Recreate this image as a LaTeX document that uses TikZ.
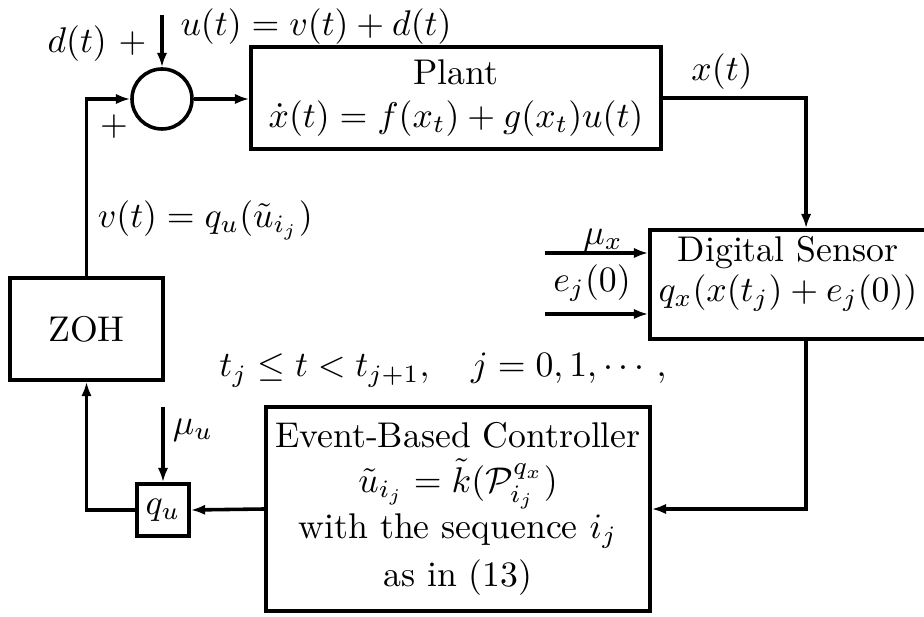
\documentclass[tikz,border=0pt]{standalone}
\usepackage{amsmath,amssymb}
\usetikzlibrary{arrows.meta,calc}
\begin{document}
\begin{tikzpicture}[x=0.28pt,y=-0.28pt,
  line width=1pt,
  blockbox/.style={draw,line width=1pt,rectangle,inner sep=0pt,align=center},
  arr/.style={-{Latex[length=4pt,width=2.9pt]},line width=1pt},
  lbl/.style={inner sep=0pt}]
\useasboundingbox (0,0) rectangle (924,617);
% blocks
\node[draw,circle,minimum size=16.8pt,inner sep=0pt] (sum) at (162,99) {};
\node[blockbox,minimum width=114.8pt,minimum height=28.6pt] (plant) at (456,98)
  {Plant\\ $\dot{x}(t)=f(x_t)+g(x_t)u(t)$};
\node[blockbox,minimum width=79.8pt,minimum height=30.5pt] (sensor) at (792.5,284.5) {};
\node[lbl,align=center] (sensortxt) at (788,274) {Digital Sensor\\[-1pt] $q_x(x(t_j)+e_j(0))$};
\node[blockbox,minimum width=42.8pt,minimum height=28.6pt] (zoh) at (86.5,329) {ZOH};
\node[blockbox,minimum width=107.5pt,minimum height=57.1pt] (ctrl) at (458,509)
  {Event-Based Controller\\[0.5pt] $\tilde{u}_{i_j}=\tilde{k}(\mathcal{P}^{q_x}_{i_j})$\\[1pt] with the sequence $i_j$\\[1.5pt] as in (13)};
\node[blockbox,minimum width=14.6pt,minimum height=14.6pt] (qu) at (163,510) {$q_u$};
% free ends
\coordinate (dtop) at (162,15);
\coordinate (mux) at (545,253);
\coordinate (ejz) at (545,314);
\coordinate (muu) at (163,407);
% connectors
\draw[arr] (dtop) -- (sum.north);
\draw[arr] (sum.east) -- (sum.east -| plant.west);
\draw[arr] (zoh.north) |- (sum.west);
\draw[arr] (plant.east) -| ([xshift=3.8pt]sensor.north);
\draw[arr] (mux) -- (mux -| sensor.west);
\draw[arr] (ejz) -- (ejz -| sensor.west);
\draw[arr] ([xshift=3.8pt]sensor.south) |- (ctrl.east);
\draw[arr] (ctrl.west) -- (qu.east);
\draw[arr] (muu) -- (qu.north);
\draw[arr] (qu.west) -| (zoh.south);
% labels
\node[lbl] (dlab) at (97,44) {$d(t)\ +$};
\node[lbl] (ulab) at (316,27) {$u(t)=v(t)+d(t)$};
\node[lbl] (plus) at (114,127) {$+$};
\node[lbl,anchor=west] (vlab) at (96,220) {$v(t)=q_u(\tilde{u}_{i_j})$};
\node[lbl] (xlab) at (722,72) {$x(t)$};
\node[lbl] (muxlab) at (603,240) {$\mu_x$};
\node[lbl] (ejlab) at (592,283) {$e_j(0)$};
\node[lbl] (mulab) at (193,430) {$\mu_u$};
\node[lbl] (tlab) at (443,370) {$t_j\le t<t_{j+1},\quad j=0,1,\cdots,$};
\end{tikzpicture}
\end{document}
